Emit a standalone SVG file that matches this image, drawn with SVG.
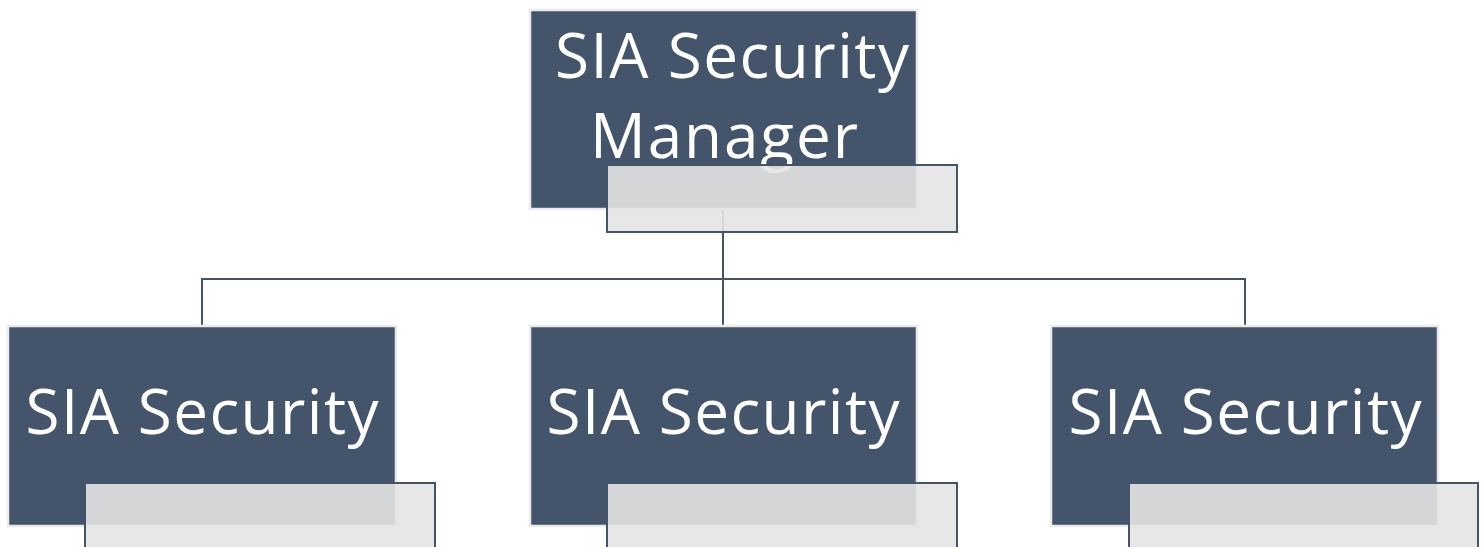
<svg xmlns="http://www.w3.org/2000/svg" width="1483" height="547" viewBox="0 0 1483 547">
<style>
.box{fill:#44546a;stroke:#ebebeb;stroke-width:2.5}
.ov{fill:#e4e4e4;fill-opacity:0.9;stroke:#44546a;stroke-width:2}
.t{font-family:"Open Sans","Noto Sans",sans-serif;font-size:62px;fill:#ffffff;text-anchor:middle}
.c{fill:none;stroke:#44546a;stroke-width:2}
</style>
<rect width="1483" height="547" fill="#ffffff"/>
<g id="connectors">
<path class="c" d="M723 209V279M202 325V279H1245V325M723 279V325"/>
</g>
<g id="manager">
<rect class="box" x="530" y="10" width="387" height="199"/>
<text class="t" x="732" y="78" textLength="354">SIA Security</text>
<text class="t" x="724" y="158" textLength="268">Manager</text>
<rect class="ov" x="607" y="165" width="350" height="67"/>
</g>
<g id="security1">
<rect class="box" x="8" y="326" width="388" height="200"/>
<text class="t" x="202" y="434" textLength="353">SIA Security</text>
<rect class="ov" x="85" y="483" width="350" height="70"/>
</g>
<g id="security2">
<rect class="box" x="530" y="326" width="387" height="200"/>
<text class="t" x="723" y="434" textLength="353">SIA Security</text>
<rect class="ov" x="607" y="483" width="350" height="70"/>
</g>
<g id="security3">
<rect class="box" x="1051" y="326" width="387" height="200"/>
<text class="t" x="1245" y="434" textLength="353">SIA Security</text>
<rect class="ov" x="1129" y="483" width="349" height="70"/>
</g>
</svg>
